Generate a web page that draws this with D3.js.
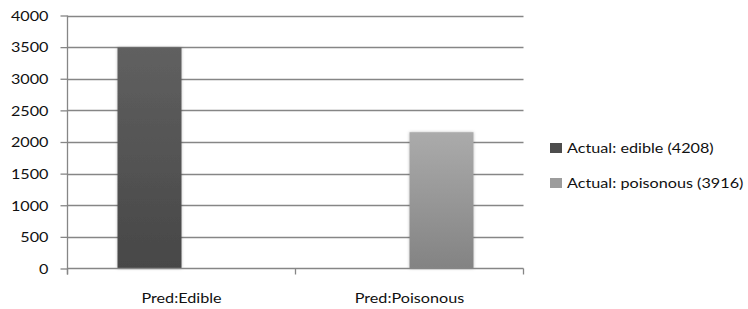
<!DOCTYPE html>
<html><head><meta charset="utf-8">
<script src="https://cdn.jsdelivr.net/npm/d3@7/dist/d3.min.js"></script>
<style>
body{margin:0;background:#fff}
text{font-family:Lato,"Open Sans",sans-serif;fill:#111}
</style></head>
<body><svg id="c" width="748" height="309"></svg>
<script>
const categories = ["Pred:Edible", "Pred:Poisonous"];
const seriesNames = ["Actual: edible (4208)", "Actual: poisonous (3916)"];
const edibleValues = [3495, 0];
const poisonousValues = [0, 2155];
const yTickValues = [0, 500, 1000, 1500, 2000, 2500, 3000, 3500, 4000];

const series = [
  {name: seriesNames[0], values: edibleValues, top: "#606060", bottom: "#474747", key: "s0", swatch: "#4d4d4d"},
  {name: seriesNames[1], values: poisonousValues, top: "#ababab", bottom: "#838383", key: "s1", swatch: "#9c9c9c"}
];

const W = 748, H = 309;
const plot = {left: 67.5, right: 523.5, top: 15.5, bottom: 268.5};
const SX = 1.2, FS = 13.5;

const svg = d3.select("#c");
const defs = svg.append("defs");
series.forEach(s => {
  const g = defs.append("linearGradient").attr("id", "g" + s.key).attr("x1", 0).attr("y1", 0).attr("x2", 0).attr("y2", 1);
  g.append("stop").attr("offset", "0%").attr("stop-color", s.top);
  g.append("stop").attr("offset", "100%").attr("stop-color", s.bottom);
});
const f = defs.append("filter").attr("id", "sh").attr("x", "-20%").attr("y", "-10%").attr("width", "140%").attr("height", "120%");
f.append("feDropShadow").attr("dx", 0).attr("dy", 0).attr("stdDeviation", 1.5).attr("flood-color", "#000").attr("flood-opacity", 0.25);

const y = d3.scaleLinear().domain([0, 4000]).range([plot.bottom, plot.top]);
const pi = 100 / 228;
const x0 = d3.scaleBand().domain(categories).range([plot.left, plot.right]).paddingInner(pi).paddingOuter(pi / 2);
const x1 = d3.scaleBand().domain(series.map(s => s.key)).range([0, x0.bandwidth()]);

// gridlines
svg.append("g").selectAll("line").data(yTickValues.filter(v => v > 0)).join("line")
  .attr("x1", plot.left).attr("x2", plot.right)
  .attr("y1", d => Math.round(y(d)) + 0.5).attr("y2", d => Math.round(y(d)) + 0.5)
  .attr("stroke", "#868686").attr("stroke-width", 1.3);

// bars
series.forEach(s => {
  svg.append("g").selectAll("rect").data(categories.map((c, i) => ({c, v: s.values[i]})).filter(d => d.v > 0)).join("rect")
    .attr("x", d => x0(d.c) + x1(s.key))
    .attr("width", x1.bandwidth())
    .attr("y", d => y(d.v))
    .attr("height", d => y(0) - y(d.v))
    .attr("fill", "url(#g" + s.key + ")")
    .attr("filter", "url(#sh)");
});

// y axis
const yAxis = svg.append("g").attr("transform", `translate(${plot.left},0)`)
  .call(d3.axisLeft(y).tickValues(yTickValues).tickSize(7).tickPadding(10).tickFormat(d3.format("d")));
yAxis.select(".domain").remove();
yAxis.selectAll(".tick line").attr("stroke", "#868686").attr("stroke-width", 1.3);
yAxis.selectAll(".tick text").attr("font-size", FS).attr("font-family", null).attr("fill", "#111")
  .attr("transform", `scale(${SX},1)`).attr("x", -19 / SX).attr("dy", "0.36em");
svg.append("line").attr("x1", plot.left).attr("x2", plot.left).attr("y1", plot.top).attr("y2", plot.bottom + 6)
  .attr("stroke", "#868686").attr("stroke-width", 1.3);

// x axis
svg.append("line").attr("x1", plot.left).attr("x2", plot.right).attr("y1", plot.bottom).attr("y2", plot.bottom)
  .attr("stroke", "#868686").attr("stroke-width", 1.3);
const bounds = [plot.left].concat(categories.map(c => x0(c) + x0.bandwidth() + x0.step() * x0.paddingInner() / 2));
svg.append("g").selectAll("line").data(bounds).join("line")
  .attr("x1", d => d).attr("x2", d => d).attr("y1", plot.bottom).attr("y2", plot.bottom + 6)
  .attr("stroke", "#868686").attr("stroke-width", 1.3);
svg.append("g").selectAll("text").data(categories).join("text")
  .attr("transform", d => `translate(${x0(d) + x0.bandwidth() / 2},303) scale(${SX},1)`)
  .attr("text-anchor", "middle").attr("font-size", FS).text(d => d);

// legend
const leg = svg.append("g").selectAll("g").data(series).join("g")
  .attr("transform", (d, i) => `translate(550,${[148, 183][i]})`);
leg.append("rect").attr("x", 0).attr("y", -5).attr("width", 12).attr("height", 10).attr("fill", d => d.swatch);
leg.append("text").attr("transform", `translate(17,0) scale(${SX},1)`).attr("dy", "0.36em")
  .attr("font-size", FS).text(d => d.name);
</script></body></html>
